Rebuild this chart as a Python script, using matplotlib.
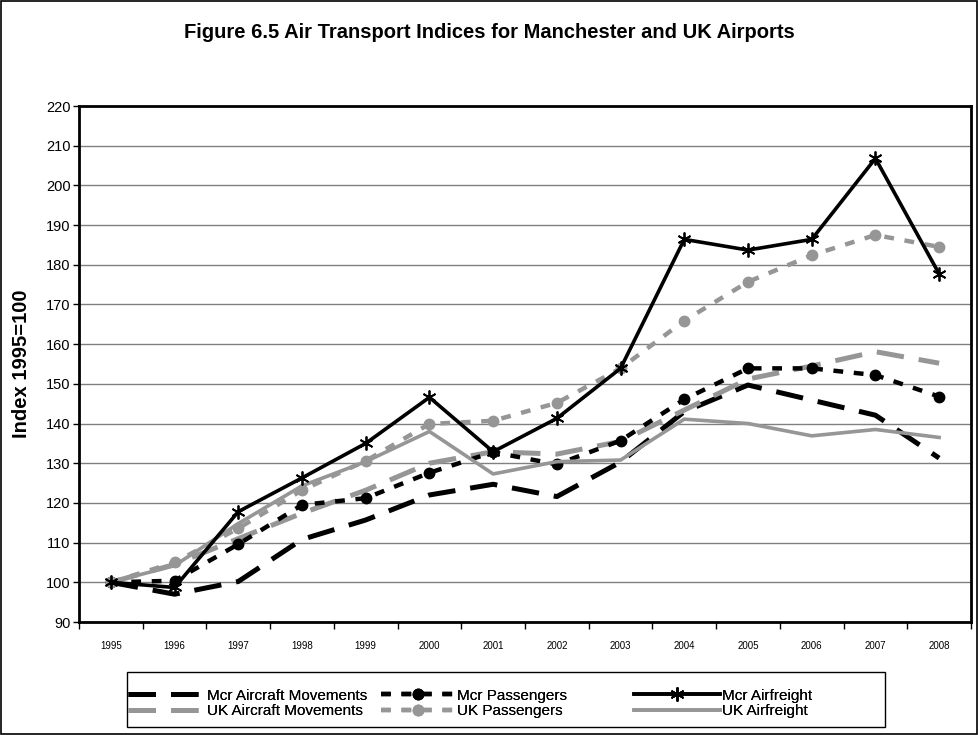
import numpy as np
import matplotlib; matplotlib.use("Agg")
import matplotlib.pyplot as plt
from matplotlib.patches import Rectangle

plt.rcParams.update({"font.family": ["Liberation Sans", "DejaVu Sans"]})

YEARS = ["1995", "1996", "1997", "1998", "1999", "2000", "2001",
         "2002", "2003", "2004", "2005", "2006", "2007", "2008"]
MCR_MOVES = [100, 97.0, 100.2, 110.8, 115.7, 122.0, 124.7, 121.6, 130.3, 143.0, 149.7, 145.9, 142.1, 131.3]
MCR_PAX   = [100, 100.4, 109.6, 119.5, 121.2, 127.6, 132.8, 129.7, 135.7, 146.1, 153.9, 153.9, 152.2, 146.8]
MCR_FRT   = [100, 98.7, 117.8, 126.3, 135.0, 146.6, 132.9, 141.3, 153.9, 186.4, 183.7, 186.4, 206.8, 177.7]
UK_MOVES  = [100, 104.5, 111.0, 117.4, 123.2, 130.0, 132.9, 132.3, 135.5, 143.4, 151.2, 154.5, 158.1, 155.2]
UK_PAX    = [100, 105.0, 113.6, 123.2, 130.6, 139.9, 140.7, 145.2, 153.9, 165.9, 175.7, 182.4, 187.5, 184.5]
UK_FRT    = [100, 104.2, 114.8, 124.3, 130.4, 138.0, 127.3, 130.4, 130.8, 141.1, 140.0, 136.9, 138.5, 136.5]

BLACK = "#000000"; GREY = "#969696"
LONG = (0, (5.5, 3.0)); SQDOT = (0, (2.2, 2.4))
W, H = 979, 735

fig = plt.figure(figsize=(W/100, H/100), dpi=100)
fig.patches.append(Rectangle((0.001, 0.001), 0.997, 0.997, transform=fig.transFigure,
                             fill=False, edgecolor="black", lw=1.2))
ax = fig.add_axes([79/W, 1-622/H, (971-79)/W, (622-106)/H])
x = np.arange(len(YEARS))

h1, = ax.plot(x, MCR_MOVES, color=BLACK, lw=3.6, ls=LONG, dash_capstyle="butt", label="Mcr Aircraft Movements")
h2, = ax.plot(x, UK_MOVES, color=GREY, lw=3.6, ls=LONG, dash_capstyle="butt", label="UK Aircraft Movements")
h3, = ax.plot(x, MCR_PAX, color=BLACK, lw=3.2, ls=SQDOT, marker="o", ms=7.5, label="Mcr Passengers")
h4, = ax.plot(x, UK_PAX, color=GREY, lw=3.2, ls=SQDOT, marker="o", ms=7.5, label="UK Passengers")
h6, = ax.plot(x, UK_FRT, color=GREY, lw=2.6, label="UK Airfreight")
h5, = ax.plot(x, MCR_FRT, color=BLACK, lw=2.6, marker=(6, 2, 0), ms=10, mew=1.3, label="Mcr Airfreight")

ax.set_xlim(-0.5, len(YEARS) - 0.5)
ax.set_ylim(90, 220)
ax.set_yticks(np.arange(90, 221, 10))
ax.tick_params(axis="y", labelsize=10.5, length=4, width=1, direction="out", pad=2)
ax.set_xticks(x)
ax.set_xticklabels(YEARS)
ax.tick_params(axis="x", which="major", length=0, labelsize=7, pad=14)
ax.set_xticks(np.arange(-0.5, len(YEARS), 1), minor=True)
ax.tick_params(axis="x", which="minor", length=5, width=1, direction="out")
ax.grid(axis="y", color="#808080", lw=1)
ax.set_axisbelow(True)
for s in ax.spines.values():
    s.set_linewidth(2.0); s.set_color("black")
ax.set_ylabel("Index 1995=100", fontsize=14.5, fontweight="bold", labelpad=11)

fig.text(0.5, 1-33/H, "Figure 6.5 Air Transport Indices for Manchester and UK Airports",
         ha="center", va="center", fontsize=14.5, fontweight="bold")

# legend: one framed box, three columns placed like the original
fig.patches.append(Rectangle((127/W, 1-727/H), (885-127)/W, 55/H, transform=fig.transFigure,
                             fill=False, edgecolor="black", lw=1.0))
cols = [((h1, h2), 128, 5.0), ((h3, h4), 381, 4.8), ((h5, h6), 634, 5.6)]
for hs, x0, hl in cols:
    lg = fig.legend(list(hs), [h.get_label() for h in hs], loc="center left",
                    bbox_to_anchor=(x0/W, 1-703.5/H), frameon=False, fontsize=11,
                    handlelength=hl, handletextpad=0.15, labelspacing=0.1, borderpad=0,
                    borderaxespad=0)
    fig.add_artist(lg)

fig.savefig("out.png", dpi=100)
